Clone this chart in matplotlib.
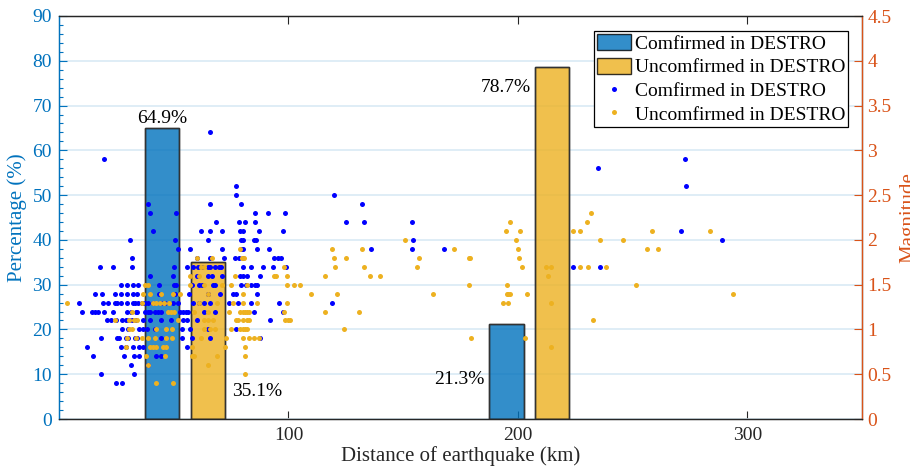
import matplotlib
matplotlib.use("Agg")
import matplotlib.pyplot as plt
from matplotlib.patches import Patch
from matplotlib.lines import Line2D
from matplotlib.ticker import MultipleLocator

plt.rcParams['font.family'] = ['Liberation Serif', 'DejaVu Serif']

# bar data (percentage of events in each distance group)
group_dist = [55, 205]
confirmed_pct = [64.9, 21.3]
unconfirmed_pct = [35.1, 78.7]

# scatter data: magnitude level -> distances (km) of events at that level
conf_mag = [3.2, 2.9, 2.8, 2.6, 2.5, 2.4, 2.3, 2.2, 2.1, 2.0, 1.9, 1.8, 1.7, 1.6,
            1.5, 1.4, 1.3, 1.2, 1.1, 1.0, 0.9, 0.8, 0.7, 0.6, 0.5, 0.4]
conf_dist = [
    [66],
    [19.5, 273],
    [235],
    [77, 273.5],
    [77, 120],
    [39, 66, 79.5, 132],
    [39.5, 51, 85.5, 91, 98.4],
    [68.5, 78.6, 81, 85.4, 125, 133, 154],
    [41, 62, 66, 71, 79, 80, 87, 97.5, 271],
    [31, 50.5, 65, 79.5, 80.4, 85, 86, 154.5, 289],
    [51.8, 57, 71, 79.4, 80.4, 86.5, 91.7, 136, 154, 168],
    [32, 60, 65.8, 72, 76.8, 78.6, 80, 93.9, 95.3, 96.8],
    [18, 23.5, 32, 50, 55.6, 58.5, 60.4, 62.4, 64.8, 65.8, 68, 69.7, 70.6, 80,
     83.8, 88.7, 93.1, 99, 224, 236],
    [39.5, 49.7, 60, 65, 66.5, 71.2, 79, 80, 81.9, 87.7],
    [26.9, 29.5, 32.2, 34.6, 43.4, 50.1, 51.2, 58, 61, 62.5, 67.3, 68.2, 79.4,
     81.5, 83.8, 85.5, 86.3],
    [15.7, 18.6, 24.3, 26.9, 29.5, 32.2, 34.2, 43.4, 50.4, 56.6, 65, 70, 76, 77, 86.3],
    [8.6, 19.2, 21.4, 24.3, 25.4, 26.9, 29.5, 32.2, 33.3, 34.5, 36, 37.3, 39, 41,
     44.6, 46, 49.7, 52, 58.5, 61, 63, 66, 74, 78, 83.8, 95.8, 119],
    [9.9, 14.5, 15.6, 16.8, 19.6, 23.7, 29.8, 31.5, 33.6, 34.2, 37.3, 38.7, 39.5,
     42, 43.2, 44.6, 52.6, 54, 55.2, 56.3, 63, 68, 85, 97.6],
    [21, 22.5, 24.7, 27.6, 29.1, 30.6, 32, 33.5, 36.5, 39.5, 44.3, 49, 54, 55.6, 60, 92.1],
    [27.5, 30, 35, 36.5, 38.3, 42, 53.4, 57, 65, 77],
    [18.1, 25.1, 26.2, 29, 30, 33, 34, 44.6, 53.4, 58, 66, 87.7],
    [12.3, 26.9, 29, 32.2, 35, 36.5, 55.6],
    [14.9, 28.4, 32.8, 35, 42.1, 44.6],
    [31.3, 38.7],
    [18.1, 32.8],
    [25, 27.3],
]

unconf_mag = [2.3, 2.2, 2.1, 2.0, 1.9, 1.8, 1.7, 1.6, 1.5, 1.4, 1.3, 1.2, 1.1, 1.0,
              0.9, 0.8, 0.7, 0.6, 0.5, 0.4]
unconf_dist = [
    [232],
    [196.5, 230],
    [194.7, 201, 224, 227, 258.3, 283.8],
    [150.6, 199.4, 236, 245.9],
    [79, 119.2, 132, 172, 199.9, 256.3, 261.1],
    [60, 66.5, 79.7, 80.5, 119.7, 124.9, 157, 178.5, 179.3, 200.4],
    [62, 63, 98, 120.2, 132.9, 156, 201.8, 212.4, 214.3, 227.2, 230.4, 238.6],
    [57, 61, 76.8, 93.6, 94.6, 99.3, 116, 135.5, 140, 213],
    [37.3, 38.7, 57, 63, 71, 75, 82, 99.3, 102.3, 105, 178.8, 195.3, 251.6],
    [36.5, 39.5, 44.6, 49.7, 52.9, 65, 80, 110, 121.3, 163, 195.2, 195.8, 196.4,
     204.2, 293.9],
    [3.5, 36, 40.9, 42.4, 43.9, 45.7, 47.8, 61, 69, 76, 80, 86.3, 99.3, 193.6,
     195.9, 214.6],
    [31.9, 47.5, 48.7, 50.1, 59, 65, 74, 79, 80, 81, 82, 83, 98, 116, 130.6],
    [24.4, 30.6, 32.6, 34, 51.9, 63, 65, 67, 77, 78, 80, 82, 83, 98.7, 99.9,
     100.9, 232.6],
    [30.3, 32, 42.4, 46.8, 49.3, 63, 66, 68, 75, 79, 80, 81, 82, 124.3],
    [29.5, 33.6, 36.1, 38.7, 42, 46.8, 49.3, 62, 73, 80, 83, 85, 87, 179.7, 203],
    [29.2, 39.5, 40.9, 42.4, 45.3, 46.8, 58, 72.5, 81, 214.6],
    [38, 46, 58, 59, 69, 81],
    [38.7, 65],
    [81],
    [42.4, 49.7],
]


def expand(mags, dists):
    xs, ys = [], []
    for m, ds in zip(mags, dists):
        for d in ds:
            xs.append(d)
            ys.append(m)
    return xs, ys


conf_x, conf_y = expand(conf_mag, conf_dist)
unconf_x, unconf_y = expand(unconf_mag, unconf_dist)

BLUE = '#0072BD'
ORANGE = '#D95319'
YELLOW = '#EDB120'
GRID = '#D9EAF5'

fig = plt.figure(figsize=(9.1, 4.69), dpi=100)
ax = fig.add_axes([59 / 910, 50 / 469, 803 / 910, 403 / 469])
ax2 = ax.twinx()

bar_w = 15
offset = 10
conf_x_bar = [g - offset for g in group_dist]
unconf_x_bar = [g + offset for g in group_dist]
ax.bar(conf_x_bar, confirmed_pct, width=bar_w, color=BLUE, alpha=0.8,
       edgecolor='black', linewidth=1, zorder=2)
ax.bar(unconf_x_bar, unconfirmed_pct, width=bar_w, color=YELLOW, alpha=0.8,
       edgecolor='black', linewidth=1, zorder=2)
# redraw outlines fully opaque
ax.bar(conf_x_bar, confirmed_pct, width=bar_w, fill=False,
       edgecolor='#333333', linewidth=1, zorder=3)
ax.bar(unconf_x_bar, unconfirmed_pct, width=bar_w, fill=False,
       edgecolor='#333333', linewidth=1, zorder=3)

# bar labels
ax.text(conf_x_bar[0], confirmed_pct[0] + 0.3, '64.9%', ha='center', va='bottom', fontsize=14)
ax.text(unconf_x_bar[0] + bar_w / 2 + 3, 6.2, '35.1%', ha='left', va='center', fontsize=14)
ax.text(conf_x_bar[1] - bar_w / 2 - 2.2, 8.9, '21.3%', ha='right', va='center', fontsize=14)
ax.text(unconf_x_bar[1] - bar_w / 2 - 2, 74, '78.7%', ha='right', va='center', fontsize=14)

ax2.plot(conf_x, conf_y, 'o', color='blue', ms=3.6, mew=0, zorder=5)
ax2.plot(unconf_x, unconf_y, 'o', color=YELLOW, ms=3.6, mew=0, zorder=5)

ax.set_xlim(0, 350)
ax.set_ylim(0, 90)
ax2.set_ylim(0, 4.5)

ax.set_xticks([100, 200, 300])
ax.yaxis.set_major_locator(MultipleLocator(10))
ax.yaxis.set_minor_locator(MultipleLocator(2))
ax2.set_yticks([0, 0.5, 1, 1.5, 2, 2.5, 3, 3.5, 4, 4.5])
ax2.set_yticklabels(['0', '0.5', '1', '1.5', '2', '2.5', '3', '3.5', '4', '4.5'])

ax.grid(axis='y', color=GRID, linewidth=1.2)
ax.set_axisbelow(True)

ax.tick_params(axis='x', which='both', direction='in', length=6, width=0.8,
               top=True, labelsize=14, colors='#262626', pad=6)
ax.tick_params(axis='y', which='major', direction='in', length=6, width=0.8,
               colors=BLUE, labelsize=14, pad=5)
ax.tick_params(axis='y', which='minor', direction='in', length=3, width=0.8, colors=BLUE)
ax2.tick_params(axis='y', which='major', direction='in', length=6, width=0.8,
                colors=ORANGE, labelsize=14, pad=4)

for side in ['left', 'right', 'top', 'bottom']:
    ax.spines[side].set_linewidth(0.9)
    ax2.spines[side].set_linewidth(0.9)
ax.spines['left'].set_color(BLUE)
ax2.spines['left'].set_color(BLUE)
ax2.spines['right'].set_color(ORANGE)
ax.spines['top'].set_color('#262626')
ax.spines['bottom'].set_color('#262626')
ax2.spines['top'].set_color('#262626')
ax2.spines['bottom'].set_color('#262626')

ax.set_xlabel('Distance of earthquake (km)', fontsize=15, color='#262626', labelpad=1)
ax.set_ylabel('Percentage (%)', fontsize=15, color=BLUE)
ax.yaxis.set_label_coords(-0.04, 0.5)
ax2.set_ylabel('Magnitude', fontsize=15, color=ORANGE, rotation=90)
ax2.yaxis.set_label_coords(1.046, 0.5)

handles = [
    Patch(facecolor=BLUE, alpha=0.8, edgecolor='black', label='Comfirmed in DESTRO'),
    Patch(facecolor=YELLOW, alpha=0.8, edgecolor='black', label='Uncomfirmed in DESTRO'),
    Line2D([], [], marker='o', ls='none', color='blue', ms=3.6, mew=0,
           label='Comfirmed in DESTRO'),
    Line2D([], [], marker='o', ls='none', color=YELLOW, ms=3.6, mew=0,
           label='Uncomfirmed in DESTRO'),
]
leg = ax2.legend(handles=handles, loc='upper right', bbox_to_anchor=(0.9826, 0.9628),
                 borderaxespad=0, fontsize=14, frameon=True, fancybox=False,
                 edgecolor='black', framealpha=1, handlelength=1.75, handleheight=0.9,
                 labelspacing=0.25, borderpad=0.15, handletextpad=0.2)
leg.get_frame().set_linewidth(0.9)

fig.savefig('out.png', dpi=100)
